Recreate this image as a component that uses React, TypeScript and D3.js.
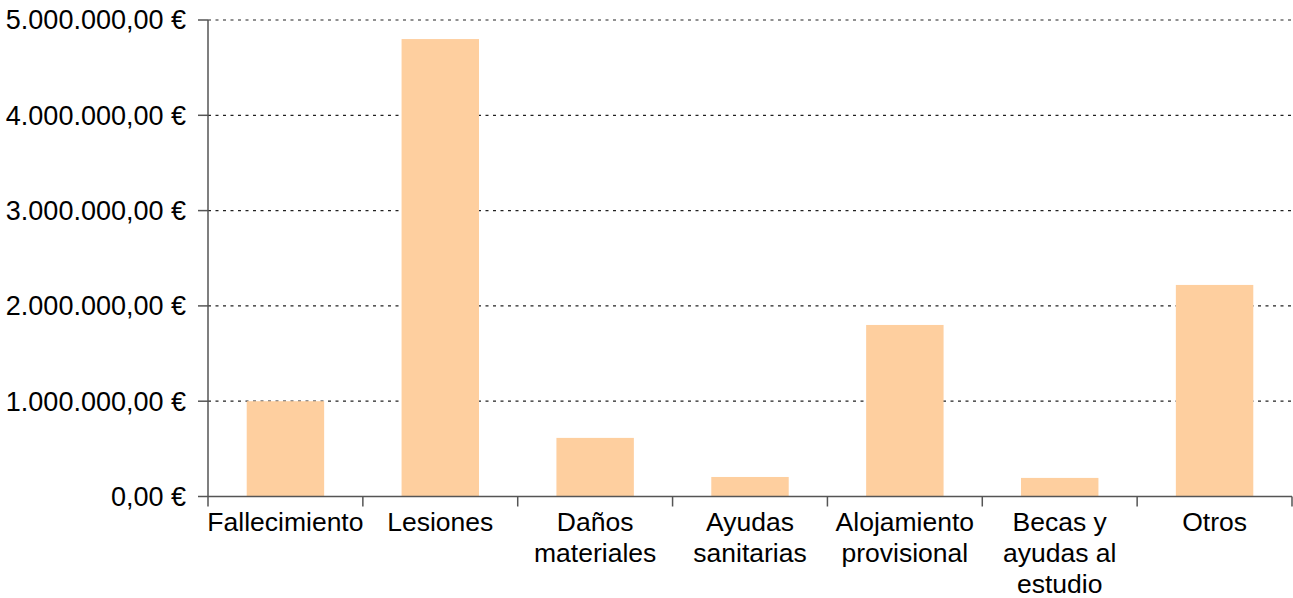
import React from "react";
import * as d3 from "d3";

const categories: string[][] = [
  ["Fallecimiento"],
  ["Lesiones"],
  ["Daños", "materiales"],
  ["Ayudas", "sanitarias"],
  ["Alojamiento", "provisional"],
  ["Becas y", "ayudas al", "estudio"],
  ["Otros"],
];
const values: number[] = [1000000, 4800000, 615000, 205000, 1800000, 195000, 2220000];
const yTicks: number[] = [0, 1000000, 2000000, 3000000, 4000000, 5000000];

const W = 1293;
const H = 598;
const margin = { left: 208, right: 1, top: 20, bottom: 101.5 };

const fmt = (v: number) => {
  const s = d3.format(",.2f")(v);
  return s.replace(/,/g, "X").replace(/\./g, ",").replace(/X/g, ".") + " €";
};

export default function App() {
  const x = d3
    .scaleBand<number>()
    .domain(categories.map((_, i) => i))
    .range([margin.left, W - margin.right])
    .paddingInner(0.5)
    .paddingOuter(0.25);
  const step = x.step();
  const y = d3.scaleLinear().domain([0, 5000000]).range([H - margin.bottom, margin.top]);
  const y0 = y(0);
  const font = "'Liberation Sans', Arial, Helvetica, sans-serif";
  const axisColor = "#555";

  return (
    <div style={{ position: "fixed", left: 0, top: 0 }}>
      <svg width={W} height={H} style={{ display: "block", fontFamily: font }}>
        <rect width={W} height={H} fill="#fff" />
        {yTicks.map((t) => (
          <line
            key={"g" + t}
            x1={margin.left}
            x2={W}
            y1={y(t)}
            y2={y(t)}
            stroke="#222"
            strokeWidth={1.2}
            strokeDasharray="3,4.5"
          />
        ))}
        {values.map((v, i) => (
          <rect
            key={"b" + i}
            x={x(i)!}
            width={x.bandwidth()}
            y={y(v)}
            height={y0 - y(v)}
            fill="#FECF9F"
          />
        ))}
        <line x1={margin.left} x2={margin.left} y1={margin.top} y2={y0 + 10} stroke={axisColor} strokeWidth={1.5} />
        {yTicks.map((t) => (
          <g key={"yt" + t}>
            <line x1={margin.left - 10} x2={margin.left} y1={y(t)} y2={y(t)} stroke={axisColor} strokeWidth={1.5} />
            <text
              x={margin.left - 22}
              y={y(t)}
              dy="0.35em"
              textAnchor="end"
              fontSize={27}
              fill="#000"
            >
              {fmt(t)}
            </text>
          </g>
        ))}
        <line x1={margin.left} x2={W - margin.right} y1={y0} y2={y0} stroke={axisColor} strokeWidth={1.5} />
        {categories.map((_, i) => {
          const bx = margin.left + step * (i + 1);
          return (
            <line key={"xt" + i} x1={bx} x2={bx} y1={y0} y2={y0 + 10} stroke={axisColor} strokeWidth={1.5} />
          );
        })}
        {categories.map((lines, i) => {
          const cx = x(i)! + x.bandwidth() / 2;
          return (
            <text key={"xl" + i} x={cx} y={531} textAnchor="middle" fontSize={26.5} fill="#000">
              {lines.map((ln, j) => (
                <tspan key={j} x={cx} dy={j === 0 ? 0 : 31}>
                  {ln}
                </tspan>
              ))}
            </text>
          );
        })}
      </svg>
    </div>
  );
}
